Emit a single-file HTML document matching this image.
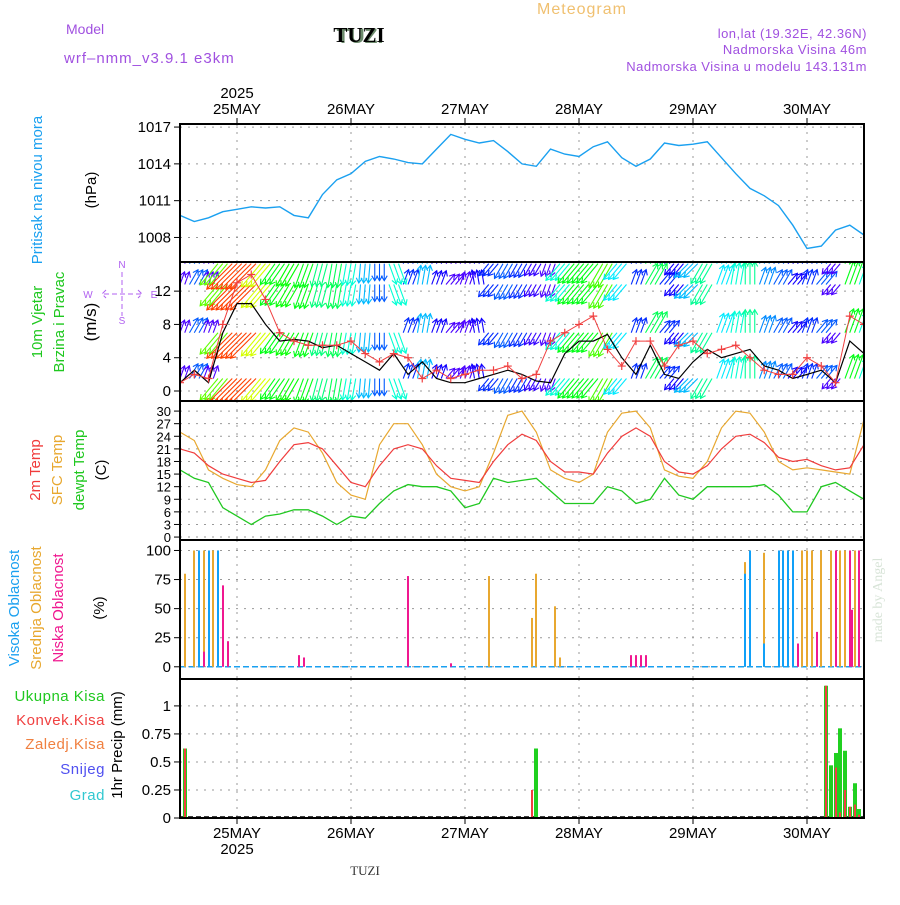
<!DOCTYPE html>
<html><head><meta charset="utf-8"><style>
body{margin:0;background:#fff}
svg text{font-family:"Liberation Sans",sans-serif}
</style></head><body>
<svg id="c" width="900" height="900" xmlns="http://www.w3.org/2000/svg">
<rect width="900" height="900" fill="#fff"/>
<text x="582" y="14" font-size="16" fill="#f0c070" text-anchor="middle" letter-spacing="1">Meteogram</text>
<text x="360" y="43" font-size="21" font-weight="bold" font-family="Liberation Serif" fill="#6c8a6c" text-anchor="middle">TUZI</text>
<text x="359" y="42" font-size="21" font-weight="bold" style="font-family:'Liberation Serif',serif" fill="#000" text-anchor="middle">TUZI</text>
<text x="66" y="34" font-size="14" fill="#a050e0">Model</text>
<text x="64" y="63" font-size="15" fill="#a050e0" letter-spacing="1">wrf–nmm_v3.9.1  e3km</text>
<text x="867" y="38" font-size="13" fill="#a050e0" text-anchor="end" letter-spacing="0.5">lon,lat (19.32E, 42.36N)</text>
<text x="867" y="54" font-size="13" fill="#a050e0" text-anchor="end" letter-spacing="0.5">Nadmorska Visina 46m</text>
<text x="867" y="71" font-size="13" fill="#a050e0" text-anchor="end" letter-spacing="0.5">Nadmorska Visina u modelu 143.131m</text>
<text x="882" y="600" font-size="14" fill="#d8e4d8" style="font-family:'Liberation Serif',serif" text-anchor="middle" transform="rotate(-90 882 600)">made by Angel</text>
<text x="365" y="875" font-size="13" style="font-family:'Liberation Serif',serif" fill="#333" text-anchor="middle">TUZI</text>
<g id="g"></g>
</svg>
<script>
const pressure=[1009.8,1009.3,1009.6,1010.1,1010.3,1010.5,1010.4,1010.5,1009.8,1009.6,1011.5,1012.7,1013.2,1014.2,1014.6,1014.4,1014.1,1014,1015.2,1016.4,1016,1015.7,1015.9,1015,1014,1013.8,1015.2,1014.8,1014.6,1015.4,1015.8,1014.5,1013.8,1014.4,1015.7,1015.5,1015.6,1015.8,1014.5,1013.2,1012,1011.4,1010.6,1009,1007.1,1007.3,1008.6,1009,1008.2];
const t2m=[21,20,17,15,14,13,13.5,18,22,22.5,21,17,13,12,17,21,22,21,17,14,13.5,13,18,22,24.5,23,18,15.5,15.5,15,20,24,26,24,18,15.5,15,17,21,24,24.5,22.5,19,18,18.5,17,16,16.5,22];
const tsfc=[25,23,16,14,12.5,12,16,23,26,25,20,13,10,9,22,27,27,22,15,12,11,12,20,29,30,25,16,14,13,15,25,29.5,30,26,16,14.5,14,18,26,30,29.5,25,18,16,16.5,16,15.5,15,28];
const tdew=[16,14,13,7,5,3,5,5.5,6.5,6.5,5,3,5,4.5,8,11,12.5,12,12,11,7,8,14,13,13.5,14,11,8,8,8,12,11,8,9,14,10,9,12,12,12,12,12.5,10,6,6,12,13,11,9];
const windSpeed=[1,2.5,1,7,10.5,10.5,8,6,6.2,6,5.2,5.5,4.5,3.5,2.5,4.5,2,3.5,1.5,1,1,1.5,2,2.5,2,1.2,1,4.5,6,6,6.8,4,2,5.5,2,1.5,3.5,5,4,4.5,5,3,2.5,1.5,2,2.5,1,6,4.5];
const windGust=[1,2,1.5,8,13,14,11,7,6,5.5,5.5,5.5,6,4.5,3.5,4.5,4,1.5,2.5,1.5,2,2.5,2.5,3,1.5,2,6,7,8,9,5,3,6,6,3,5.5,6,4.5,5,5.5,4,2.5,2,2,4,3,1,9,8];
const windDir=[200,210,200,40,45,45,40,35,30,20,15,10,10,5,0,340,200,190,200,220,200,170,40,30,30,30,20,40,40,40,30,40,200,210,220,40,45,30,200,190,180,200,210,220,200,220,40,200,200];
const highH=[4,6,8,10,119,120,123,126,127,128,129];
const highV=[100,100,100,18,80,100,20,100,100,100,100];
const midH=[1,3,5,7,8,65,74,75,79,80,119,120,123,129,131,132,133,135,137,139,140,142,143];
const midV=[80,100,100,100,100,78,42,80,52,8,90,100,98,100,100,100,100,100,100,100,100,100,100];
const lowH=[5,9,10,25,26,48,57,95,96,97,98,130,134,138,141,141.5,143];
const lowV=[13,70,22,10,8,78,3,10,10,10,10,20,30,100,100,49,100];
const rainH=[1,74,75,136,137,138,139,140,141,142,143];
const rainTot=[0.62,0,0.62,1.18,0.47,0.58,0.8,0.6,0.1,0.31,0.08];
const rainConv=[0.62,0.25,0,1.18,0,0.45,0.05,0.25,0.1,0.12,0.03];
const dayLabels=['25MAY','26MAY','27MAY','28MAY','29MAY','30MAY'];
const pTicks=[1008,1011,1014,1017];
const wTicks=[0,4,8,12];
const tTicks=[0,3,6,9,12,15,18,21,24,27,30];
const cTicks=[0,25,50,75,100];
const rTicks=[0,0.25,0.5,0.75,1];

const NS='http://www.w3.org/2000/svg';
const G=document.getElementById('g');
function el(t,a,p){const e=document.createElementNS(NS,t);for(const k in a)e.setAttribute(k,a[k]);(p||G).appendChild(e);return e;}
const X0=180,X1=864,PH=4.75;
const xs=h=>X0+h*PH;
const panels=[{t:124,b:262,lo:1006,hi:1017.25},{t:262,b:401,lo:-1.2,hi:15.5},{t:401,b:540,lo:-0.7,hi:32.4},{t:540,b:679,lo:-10.5,hi:109},{t:679,b:818,lo:0,hi:1.24}];
const ys=(p,v)=>{const P=panels[p];return P.b-(v-P.lo)/(P.hi-P.lo)*(P.b-P.t);};
const ticksets=[pTicks,wTicks,tTicks,cTicks,rTicks];
const defs=el('defs',{});
panels.forEach((P,i)=>{const cp=el('clipPath',{id:'cp'+i},defs);el('rect',{x:X0,y:P.t,width:X1-X0,height:P.b-P.t},cp);});
panels.forEach((P,i)=>{
 ticksets[i].forEach(v=>{const y=ys(i,v);
  const gl=el('line',{x1:X0,x2:X1,y1:y,y2:y,stroke:'#999','stroke-dasharray':'2 6','stroke-width':1});
  
  
  el('line',{x1:X0-6,x2:X0,y1:y,y2:y,stroke:'#000'});
  const tx=el('text',{x:X0-9,y:y+5,'font-size':i==2?13:15,'text-anchor':'end',fill:'#000'});
  tx.textContent=String(v);
  
  
 });
 for(let d=0;d<6;d++){const x=xs(12+24*d);el('line',{x1:x,x2:x,y1:P.t,y2:P.b,stroke:'#999','stroke-dasharray':'2 6'});}
});
dayLabels.forEach((d,i)=>{const x=xs(12+24*i);
 const a=el('text',{x:x,y:114,'font-size':15,'text-anchor':'middle'});a.textContent=d;
 
 
 const b=el('text',{x:x,y:838,'font-size':15,'text-anchor':'middle'});b.textContent=d;
 
 
 el('line',{x1:x,x2:x,y1:118,y2:124,stroke:'#000'});el('line',{x1:x,x2:x,y1:818,y2:824,stroke:'#000'});
});
[[xs(12),98],[xs(12),854]].forEach(([x,y])=>{const t=el('text',{x:x,y:y,'font-size':15,'text-anchor':'middle'});t.textContent='2025';
 
 });
function path(p,arr,color,w,name){let d='';arr.forEach((v,i)=>{d+=(i?'L':'M')+xs(i*3).toFixed(1)+','+ys(p,v).toFixed(1);});
 const e=el('path',{d:d,fill:'none',stroke:color,'stroke-width':w||1.3,'clip-path':'url(#cp'+p+')'});
 
 return e;}
path(0,pressure,'#1aa0f0',1.4,'pressure-line');
function hue(s){const st=[[0,285],[2,230],[4,185],[6,125],[8,70],[10,30],[12,-30]];
 for(let i=1;i<st.length;i++){if(s<=st[i][0]){const f=(s-st[i-1][0])/(st[i][0]-st[i-1][0]);return st[i-1][1]+f*(st[i][1]-st[i-1][1]);}}return -30;}
const levels=[1.5,7,12.8,15.3];
const wg=el('g',{'clip-path':'url(#cp1)'});


levels.forEach(lv=>{
 windDir.forEach((dir,i)=>{const s=windSpeed[i];const to=(dir+180)*Math.PI/180;const L=Math.min(11+2.4*s,36);
  const col='hsl('+((hue(s)+360)%360)+',100%,50%)';
  [-4.75,0,4.75].forEach(o=>{const x=xs(i*3)+o,y=ys(1,lv);const tx=x+L*Math.sin(to),ty=y-L*Math.cos(to);
   const a=el('line',{x1:x,y1:y,x2:tx,y2:ty,stroke:col,'stroke-width':1.1},wg);
   
   
   const hx=Math.sin(to),hy=-Math.cos(to);
   el('path',{d:`M${tx-5*hx-3*hy},${ty-5*hy+3*hx}L${tx},${ty}L${tx-5*hx+3*hy},${ty-5*hy-3*hx}`,fill:'none',stroke:col,'stroke-width':1.1},wg);
  });});});
path(1,windSpeed,'#000',1.2,'wind-speed-line');
const gg=el('g',{'clip-path':'url(#cp1)'});
windGust.forEach((v,i)=>{const x=xs(i*3),y=ys(1,v);
 const c=el('path',{d:`M${x-4},${y}H${x+4}M${x},${y-4}V${y+4}`,stroke:'#f04040','stroke-width':1.2},gg);
 
 });
let gd='';windGust.forEach((v,i)=>{gd+=(i?'L':'M')+xs(i*3)+','+ys(1,v);});el('path',{d:gd,fill:'none',stroke:'#f04040','stroke-width':1},gg);
path(2,tsfc,'#e8a830',1.2,'sfc-temp-line');
path(2,t2m,'#f03c3c',1.2,'2m-temp-line');
path(2,tdew,'#20c820',1.3,'dewpoint-line');
el('line',{x1:X0,x2:X1,y1:ys(3,0),y2:ys(3,0),stroke:'#1aa0f0','stroke-width':1.5,'stroke-dasharray':'6 3'});
function bars(p,H,V,col,w,off,name){H.forEach((h,i)=>{if(V[i]<=0)return;const x=Math.round(xs(h)+off),y0=ys(p,0),y=ys(p,V[i]);
 const r=el('rect',{x:x-Math.floor(w/2),y:y,width:w,height:y0-y,fill:col});
 
 });}
bars(3,midH,midV,'#e8a830',2,0,'mid-cloud-bar');
bars(3,highH,highV,'#10a0f8',2,0,'high-cloud-bar');
bars(3,lowH,lowV,'#f01890',2,0,'low-cloud-bar');
el('line',{x1:X0,x2:X1,y1:817,y2:817,stroke:'#000','stroke-width':1.5,'stroke-dasharray':'5 3'});
bars(4,rainH,rainTot,'#20d020',4,0,'total-rain-bar');
bars(4,rainH,rainConv,'#f04040',2,0,'convective-rain-bar');
panels.forEach(P=>{const f=el('rect',{x:X0,y:P.t,width:X1-X0,height:P.b-P.t,fill:'none',stroke:'#000','stroke-width':2});
 
 });
function vl(x,y,txt,col,fs,name){const t=el('text',{x:x,y:y,'font-size':fs||15,fill:col,'text-anchor':'middle',transform:`rotate(-90 ${x} ${y})`});t.textContent=txt;
 
 }
vl(42,190,'Pritisak na nivou mora','#1aa0f0',15,'pressure-title');
vl(96,190,'(hPa)','#000',15,'pressure-unit');
vl(42,322,'10m Vjetar','#20c820',15,'wind-title');
vl(64,322,'Brzina i Pravac','#20c820',15,'wind-subtitle');
vl(96,322,'(m/s)','#000',17,'wind-unit');
vl(40,470,'2m Temp','#f03c3c',15,'temp-2m-label');
vl(62,470,'SFC Temp','#e8a830',15,'temp-sfc-label');
vl(84,470,'dewpt Temp','#20c820',15,'temp-dew-label');
vl(106,470,'(C)','#000',15,'temp-unit');
vl(19,608,'Visoka Oblacnost','#1aa0f0',15,'high-cloud-label');
vl(41,608,'Srednja Oblacnost','#e8a830',15,'mid-cloud-label');
vl(63,608,'Niska Oblacnost','#f01890',15,'low-cloud-label');
vl(104,608,'(%)','#000',15,'cloud-unit');
vl(122,745,'1hr Precip (mm)','#000',15,'precip-title');
[['Ukupna  Kisa','#20c820',701],['Konvek.Kisa','#f04040',725],['Zaledj.Kisa','#f08040',749],['Snijeg','#5050f0',774],['Grad','#30c8d0',800]].forEach(([t,c,y])=>{
 const e=el('text',{x:105,y:y,'font-size':15,fill:c,'text-anchor':'end','letter-spacing':'0.5'});e.textContent=t;
 
 });
const cg=el('g',{fill:'#b060f0',stroke:'#b060f0'});


el('path',{d:'M122,272V316M104,294H142M106,290L102,294L106,298M138,290L142,294L138,298','fill':'none','stroke-dasharray':'5 3'},cg);
[['N',122,268],['S',122,324],['W',88,298],['E',154,298]].forEach(([t,x,y])=>{const e=el('text',{x:x,y:y,'font-size':10,'text-anchor':'middle',stroke:'none'},cg);e.textContent=t;});
</script>
</body></html>
